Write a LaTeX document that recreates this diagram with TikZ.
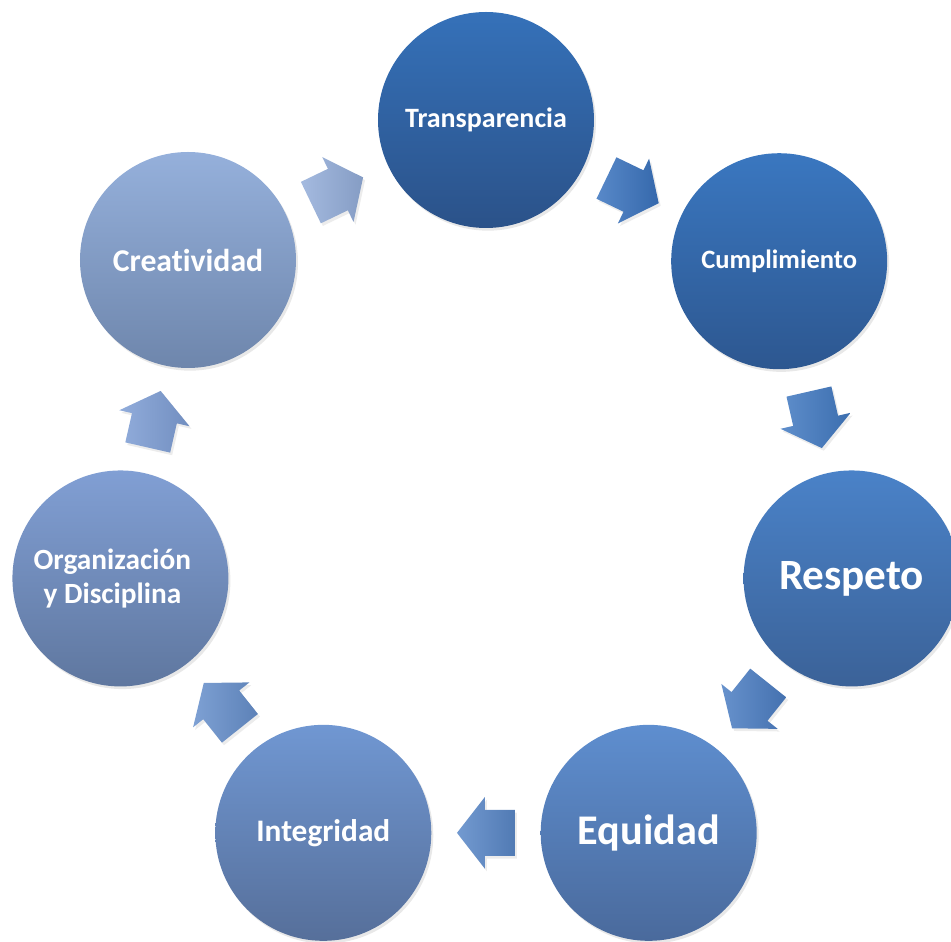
\documentclass[tikz,border=0pt]{standalone}
\usepackage{fontspec}
\setmainfont{Carlito}[Ligatures={NoCommon,NoRare}]
\usetikzlibrary{calc,shadows}
\definecolor{t0}{HTML}{3571B9}\definecolor{b0}{HTML}{2B5289}
\definecolor{t1}{HTML}{3A77C0}\definecolor{b1}{HTML}{2D5790}
\definecolor{t2}{HTML}{4A82C8}\definecolor{b2}{HTML}{3B6298}
\definecolor{t3}{HTML}{5E8ECF}\definecolor{b3}{HTML}{4A6A9C}
\definecolor{t4}{HTML}{7097D2}\definecolor{b4}{HTML}{566F9A}
\definecolor{t5}{HTML}{819FD4}\definecolor{b5}{HTML}{5F779F}
\definecolor{t6}{HTML}{95B0DB}\definecolor{b6}{HTML}{6E86AC}
\definecolor{a0}{HTML}{3B74BF}
\definecolor{a1}{HTML}{427AC2}
\definecolor{a2}{HTML}{4C7EC3}
\definecolor{a3}{HTML}{5A88C8}
\definecolor{a4}{HTML}{6790CC}
\definecolor{a5}{HTML}{7E9ED5}
\definecolor{a6}{HTML}{94AEDA}
\tikzset{
  circ/.style={circle, minimum size=162pt, inner sep=0pt, text=white,
    align=center,
    drop shadow={opacity=0.18, shadow xshift=1.5pt, shadow yshift=-2pt}},
  blockarrow/.style={draw=none,
    drop shadow={opacity=0.15, shadow xshift=1.5pt, shadow yshift=-2pt}}
}
\begin{document}
\begin{tikzpicture}[x=0.75pt,y=0.75pt]
\useasboundingbox (-486,-447) rectangle (465,495);
\node[circ, top color=t0, bottom color=b0, font=\fontsize{21}{25}\selectfont\bfseries] (c0) at ({90-0*360/7}:375) {Transparencia};
\node[circ, top color=t1, bottom color=b1, font=\fontsize{19.9}{24}\selectfont\bfseries] (c1) at ({90-1*360/7}:375) {Cumplimiento};
\node[circ, top color=t2, bottom color=b2, font=\fontsize{32.4}{38}\selectfont\bfseries] (c2) at ({90-2*360/7}:375) {Respeto};
\node[circ, top color=t3, bottom color=b3, font=\fontsize{31.7}{38}\selectfont\bfseries] (c3) at ({90-3*360/7}:375) {Equidad};
\node[circ, top color=t4, bottom color=b4, font=\fontsize{23.5}{28}\selectfont\bfseries] (c4) at ({90-4*360/7}:375) {Integridad};
\node[circ, top color=t5, bottom color=b5, font=\fontsize{22}{25.5}\selectfont\bfseries] (c5) at ({90-5*360/7}:375) {\hspace*{-12pt}Organización\\\hspace*{-12pt}y Disciplina};
\node[circ, top color=t6, bottom color=b6, font=\fontsize{23.8}{28}\selectfont\bfseries] (c6) at (-298,235) {Creatividad};
\foreach \i/\j/\col in {0/1/a0,1/2/a1,2/3/a2,3/4/a3,4/5/a4,5/6/a5,6/0/a6}{
  \pgfmathsetmacro\ang{-(\i+0.5)*360/7}
  \begin{scope}[shift={($(c\i)!0.5!(c\j)$)}, rotate=\ang]
    \path[blockarrow, left color=\col!85!white, right color=\col!90!black]
      (-29,23) -- (1,23) -- (1,36) -- (29,0) -- (1,-36) -- (1,-23) -- (-29,-23) -- cycle;
  \end{scope}
}
\end{tikzpicture}
\end{document}
